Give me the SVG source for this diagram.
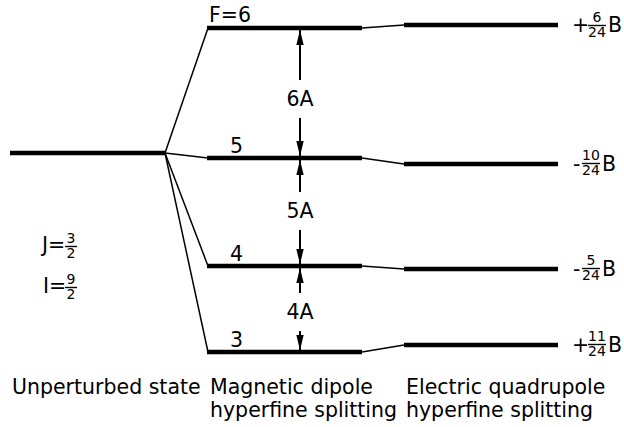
<svg xmlns="http://www.w3.org/2000/svg" width="624" height="427" viewBox="0 0 624 427">
<style>
.lvl{stroke:#000;stroke-width:4.5;fill:none}
.con{stroke:#000;stroke-width:1.5;fill:none}
.arr{stroke:#000;stroke-width:2;fill:none;marker-end:url(#ah)}
.bar{stroke:#000;stroke-width:1.4}
text{font-family:"DejaVu Sans",sans-serif;font-size:20.5px;fill:#000}
.fr{font-size:14px}
.mid{text-anchor:middle}
</style>
<defs>
<marker id="ah" markerUnits="userSpaceOnUse" markerWidth="16" markerHeight="8" refX="15" refY="4" orient="auto" viewBox="0 0 16 8">
<path d="M0,0.3 L15,4 L0,7.7 z" fill="#000"/>
</marker>
</defs>
<g id="connectors">
<line class="con" x1="165" y1="153" x2="208" y2="28"/>
<line class="con" x1="165" y1="153" x2="208" y2="158"/>
<line class="con" x1="165" y1="153" x2="208" y2="266"/>
<line class="con" x1="165" y1="153" x2="208" y2="352"/>
<line class="con" x1="362" y1="28" x2="404" y2="25"/>
<line class="con" x1="362" y1="158" x2="404" y2="164"/>
<line class="con" x1="362" y1="266" x2="404" y2="269"/>
<line class="con" x1="362" y1="352" x2="404" y2="345"/>
<line class="arr" x1="300" y1="80" x2="300" y2="30"/>
<line class="arr" x1="300" y1="118" x2="300" y2="156"/>
<line class="arr" x1="300" y1="192" x2="300" y2="160"/>
<line class="arr" x1="300" y1="230" x2="300" y2="264"/>
<line class="arr" x1="300" y1="293" x2="300" y2="268"/>
<line class="arr" x1="300" y1="331" x2="300" y2="350"/>
</g>
<g id="unperturbed">
<line class="lvl" x1="10" y1="153" x2="165" y2="153"/>
<text x="12" y="394">Unperturbed state</text>
</g>
<g id="JI">
<text x="42" y="252">J=</text>
<text class="fr mid" x="71" y="243">3</text>
<line class="bar" x1="65" y1="246.5" x2="77" y2="246.5"/>
<text class="fr mid" x="71" y="258">2</text>
<text x="43" y="293">I=</text>
<text class="fr mid" x="71" y="284">9</text>
<line class="bar" x1="65" y1="287.5" x2="77" y2="287.5"/>
<text class="fr mid" x="71" y="299">2</text>
</g>
<g id="magnetic">
<line class="lvl" x1="207" y1="28" x2="362" y2="28"/>
<line class="lvl" x1="207" y1="158" x2="362" y2="158"/>
<line class="lvl" x1="207" y1="266" x2="362" y2="266"/>
<line class="lvl" x1="207" y1="352" x2="362" y2="352"/>
<text x="209" y="22">F=6</text>
<text x="230" y="153">5</text>
<text x="230" y="261">4</text>
<text x="230" y="347">3</text>
<text class="mid" x="300" y="106">6A</text>
<text class="mid" x="300" y="218">5A</text>
<text class="mid" x="300" y="319">4A</text>
<text x="210" y="394">Magnetic dipole</text>
<text x="210" y="417">hyperfine splitting</text>
</g>
<g id="electric">
<line class="lvl" x1="404" y1="25" x2="558" y2="25"/>
<line class="lvl" x1="404" y1="164" x2="558" y2="164"/>
<line class="lvl" x1="404" y1="269" x2="558" y2="269"/>
<line class="lvl" x1="404" y1="345" x2="558" y2="345"/>
<text x="406" y="394">Electric quadrupole</text>
<text x="406" y="417">hyperfine splitting</text>
</g>
<g id="label-6">
<text x="572" y="32">+</text>
<text class="fr mid" x="597" y="22">6</text>
<line class="bar" x1="588" y1="25.5" x2="606" y2="25.5"/>
<text class="fr mid" x="597" y="37">24</text>
<text x="608" y="32">B</text>
</g>
<g id="label-10">
<text x="573" y="171">-</text>
<text class="fr mid" x="591" y="160">10</text>
<line class="bar" x1="582" y1="163.5" x2="600" y2="163.5"/>
<text class="fr mid" x="591" y="175">24</text>
<text x="602" y="171">B</text>
</g>
<g id="label-5">
<text x="573" y="276">-</text>
<text class="fr mid" x="591" y="265">5</text>
<line class="bar" x1="582" y1="268.5" x2="600" y2="268.5"/>
<text class="fr mid" x="591" y="280">24</text>
<text x="602" y="276">B</text>
</g>
<g id="label-11">
<text x="572" y="352">+</text>
<text class="fr mid" x="597" y="341">11</text>
<line class="bar" x1="588" y1="344.5" x2="606" y2="344.5"/>
<text class="fr mid" x="597" y="356">24</text>
<text x="608" y="352">B</text>
</g>
</svg>
